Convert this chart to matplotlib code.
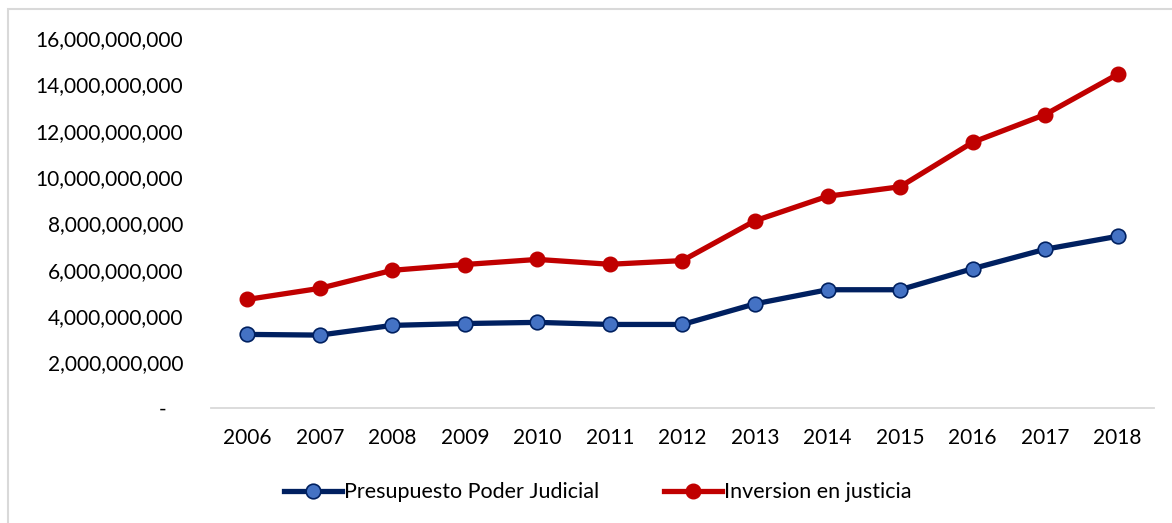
#!/usr/bin/env python3

from matplotlib.patches import Rectangle
from matplotlib.pyplot import rcParams, subplots, savefig, close
from matplotlib.ticker import FuncFormatter

YEARS = ["2006", "2007", "2008", "2009", "2010", "2011", "2012",
         "2013", "2014", "2015", "2016", "2017", "2018"]
PRESUPUESTO = [3.20e9, 3.17e9, 3.59e9, 3.67e9, 3.72e9, 3.63e9, 3.63e9,
               4.52e9, 5.13e9, 5.13e9, 6.04e9, 6.88e9, 7.44e9]
INVERSION = [4.71e9, 5.19e9, 5.97e9, 6.22e9, 6.44e9, 6.23e9, 6.39e9,
             8.11e9, 9.17e9, 9.58e9, 11.50e9, 12.70e9, 14.44e9]
LABELS = ["Presupuesto Poder Judicial", "Inversion en justicia"]

rcParams["font.family"] = ["Lato", "DejaVu Sans"]


def fmt(value, pos):
    if value == 0:
        return "-   "
    return "{:,.0f}".format(value)


def main():
    fig, ax = subplots(figsize=(11.72, 5.23), dpi=100)
    fig.subplots_adjust(left=0.18, right=0.9846, bottom=0.219, top=0.927)
    x = range(len(YEARS))

    ax.plot(x, PRESUPUESTO, color="#002060", lw=3.8, marker="o",
            markersize=10.5, markerfacecolor="#4472C4",
            markeredgecolor="#002060", markeredgewidth=1.2,
            label=LABELS[0], zorder=3)
    ax.plot(x, INVERSION, color="#C00000", lw=3.8, marker="o",
            markersize=10.5, markerfacecolor="#C00000",
            markeredgecolor="#C00000", label=LABELS[1], zorder=3)

    ax.set_xlim(-0.5, len(YEARS) - 0.5)
    ax.set_ylim(0, 16e9)
    ax.set_yticks([i * 2e9 for i in range(9)])
    ax.yaxis.set_major_formatter(FuncFormatter(fmt))
    ax.set_xticks(list(x))
    ax.set_xticklabels(YEARS)
    ax.tick_params(axis="y", length=0, pad=20, labelsize=15)
    ax.tick_params(axis="x", length=0, pad=14, labelsize=15)
    for edge in ["top", "right", "left"]:
        ax.spines[edge].set_visible(False)
    ax.spines["bottom"].set_color("#D9D9D9")
    ax.spines["bottom"].set_linewidth(1.3)

    fig.legend(loc="center", bbox_to_anchor=(0.51, 0.059), ncol=2,
               frameon=False, fontsize=15.5, handlelength=2.7,
               handletextpad=0.1, columnspacing=3.0)

    fig.patches.append(Rectangle((8 / 1172, -0.1), 1.2, 1.1 - 9 / 523,
                                 transform=fig.transFigure, fill=False,
                                 edgecolor="#D9D9D9", lw=1.5))

    savefig("out.png")
    close()


if __name__ == "__main__":
    main()
